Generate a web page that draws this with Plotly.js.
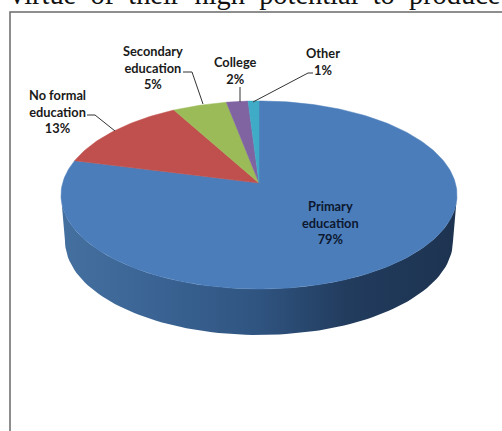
<!DOCTYPE html>
<html>
<head>
<meta charset="utf-8">
<script src="https://cdn.plot.ly/plotly-3.0.1.min.js"></script>
<style>html,body{margin:0;padding:0;background:#fff;overflow:hidden}#chart{width:502px;height:431px}</style>
</head>
<body>
<div id="chart"></div>
<script>
// Education level shares, in percent, clockwise from 12 o'clock
const categories = ["Primary<br>education", "No formal<br>education", "Secondary<br>education", "College", "Other"];
const shares = [79, 13, 5, 2, 1];
const sliceColors = ["#4b7dba", "#c0504d", "#9bbb59", "#8064a2", "#3fabc6"];

const labelAt = [[330, 222], [57, 111], [153, 67], [235, 70], [323, 61]];
const labelColors = ["#0d1830", "#1a1a1a", "#1a1a1a", "#1a1a1a", "#1a1a1a"];
const leaders = [
  "M87,115 L95,115 L115,131",
  "M183,72 L192,72 L203,104",
  "M240,87 L240,102",
  "M313,73 L308,73 L253,102"
];

// Tilted disc: a unit circle seen in perspective, apex at (cx, apexY)
const cx = 259, apexY = 183, spanX = 196.4, spanY = 92.5, tilt = 0.1277;
function project(turn) {
  const a = turn * 2 * Math.PI;
  const u = Math.sin(a), v = Math.cos(a), w = 1 + tilt * v;
  return [cx + spanX * u / w, apexY - spanY * v / w];
}

// Side wall between the rim of the top face and a slightly narrower lower rim
const rimY = 195, rimRx = 198, rimRy = 94, baseY = 241, baseRx = 194, baseRy = 94;
const wallX = [], wallY = [];
for (let d = 180; d >= 0; d -= 2) {
  const t = d * Math.PI / 180;
  wallX.push(cx + rimRx * Math.cos(t)); wallY.push(rimY + rimRy * Math.sin(t));
}
for (let d = 0; d <= 180; d += 2) {
  const t = d * Math.PI / 180;
  wallX.push(cx + baseRx * Math.cos(t)); wallY.push(baseY + baseRy * Math.sin(t));
}

const traces = [{
  x: wallX, y: wallY, mode: "lines", fill: "toself", hoverinfo: "skip", showlegend: false,
  line: {width: 0},
  fillgradient: {
    type: "horizontal",
    colorscale: [[0, "#44709f"], [0.25, "#3a6393"], [0.5, "#2f5480"], [0.72, "#223c5e"], [1, "#1d3350"]]
  }
}];

const total = shares.reduce((a, b) => a + b, 0);
let running = 0;
shares.forEach((value, i) => {
  const start = running / total, end = (running + value) / total;
  running += value;
  const xs = [cx], ys = [apexY];
  const steps = Math.max(4, Math.round((end - start) * 360));
  for (let s = 0; s <= steps; s++) {
    const p = project(start + (end - start) * s / steps);
    xs.push(p[0]); ys.push(p[1]);
  }
  xs.push(cx); ys.push(apexY);
  traces.push({
    x: xs, y: ys, mode: "lines", fill: "toself", fillcolor: sliceColors[i],
    line: {width: 0.5, color: sliceColors[i]}, showlegend: false,
    name: categories[i].replace("<br>", " "),
    hovertemplate: value + "%<extra>%{fullData.name}</extra>"
  });
});

const annotations = categories.map((c, i) => ({
  x: labelAt[i][0], y: labelAt[i][1], xref: "x", yref: "y",
  text: "<b>" + c + "<br>" + shares[i] + "%</b>", showarrow: false,
  xanchor: "center", yanchor: "middle", align: "center",
  font: {family: "Lato, sans-serif", size: 12.8, color: labelColors[i]}
}));

// Running text of the page above the figure, cut by the top edge
annotations.push({
  x: 8, y: 12, xref: "x", yref: "y", xanchor: "left", yanchor: "bottom", showarrow: false,
  text: "virtue\u00a0\u00a0of\u00a0\u00a0their\u00a0\u00a0high\u00a0\u00a0potential\u00a0\u00a0to\u00a0\u00a0produce",
  font: {family: "Liberation Serif, serif", size: 28.4, color: "#111"}
});

const shapes = leaders.map(path => ({
  type: "path", path, xref: "x", yref: "y", line: {color: "#333", width: 1}
}));
// Figure frame: only the top and left edges fall inside the crop
shapes.push({type: "path", path: "M10,431 L10,12 L502,12", xref: "x", yref: "y", line: {color: "#6a6a6a", width: 1.5}});

Plotly.newPlot("chart", traces, {
  width: 502, height: 431,
  margin: {l: 0, r: 0, t: 0, b: 0},
  paper_bgcolor: "#fff", plot_bgcolor: "#fff",
  showlegend: false,
  xaxis: {range: [0, 502], visible: false, fixedrange: true},
  yaxis: {range: [431, 0], visible: false, fixedrange: true},
  annotations, shapes
}, {displayModeBar: false});
</script>
</body>
</html>
